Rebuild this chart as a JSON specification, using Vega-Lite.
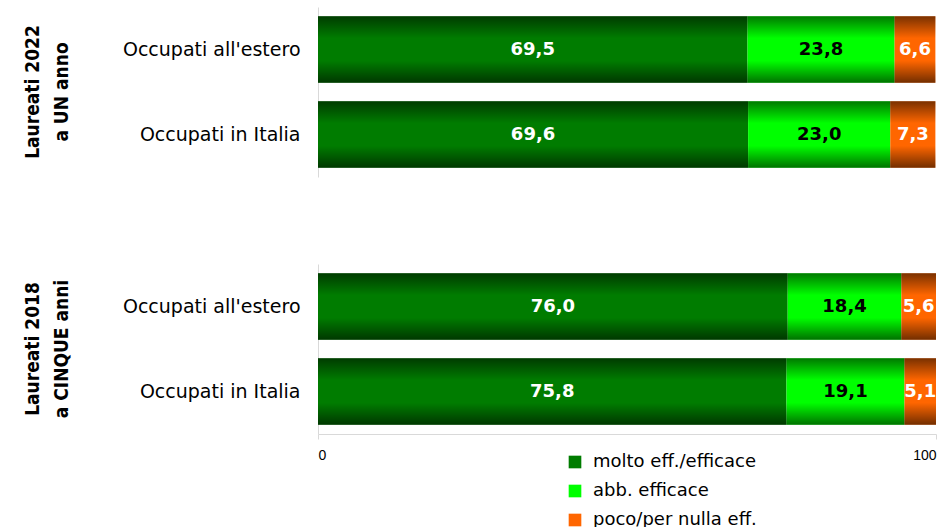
{
  "$schema": "https://vega.github.io/schema/vega-lite/v6.json",
  "background": "white",
  "padding": {"top": 7, "left": 24, "right": 14, "bottom": 5},
  "config": {
    "locale": {"number": {"decimal": ",", "thousands": ".", "grouping": [3], "currency": ["", " €"]}},
    "font": "DejaVu Sans",
    "view": {"stroke": null}
  },
  "data": {"values": [
    {"grp": "Laureati 2022|a UN anno", "sub": "Occupati all'estero", "cat": "molto eff./efficace", "k": 1, "v": 69.5},
    {"grp": "Laureati 2022|a UN anno", "sub": "Occupati all'estero", "cat": "abb. efficace", "k": 2, "v": 23.8},
    {"grp": "Laureati 2022|a UN anno", "sub": "Occupati all'estero", "cat": "poco/per nulla eff.", "k": 3, "v": 6.6},
    {"grp": "Laureati 2022|a UN anno", "sub": "Occupati in Italia", "cat": "molto eff./efficace", "k": 1, "v": 69.6},
    {"grp": "Laureati 2022|a UN anno", "sub": "Occupati in Italia", "cat": "abb. efficace", "k": 2, "v": 23.0},
    {"grp": "Laureati 2022|a UN anno", "sub": "Occupati in Italia", "cat": "poco/per nulla eff.", "k": 3, "v": 7.3},
    {"grp": "Laureati 2018|a CINQUE anni", "sub": "Occupati all'estero", "cat": "molto eff./efficace", "k": 1, "v": 76.0},
    {"grp": "Laureati 2018|a CINQUE anni", "sub": "Occupati all'estero", "cat": "abb. efficace", "k": 2, "v": 18.4},
    {"grp": "Laureati 2018|a CINQUE anni", "sub": "Occupati all'estero", "cat": "poco/per nulla eff.", "k": 3, "v": 5.6},
    {"grp": "Laureati 2018|a CINQUE anni", "sub": "Occupati in Italia", "cat": "molto eff./efficace", "k": 1, "v": 75.8},
    {"grp": "Laureati 2018|a CINQUE anni", "sub": "Occupati in Italia", "cat": "abb. efficace", "k": 2, "v": 19.1},
    {"grp": "Laureati 2018|a CINQUE anni", "sub": "Occupati in Italia", "cat": "poco/per nulla eff.", "k": 3, "v": 5.1}
  ]},
  "transform": [
    {"stack": "v", "groupby": ["grp", "sub"], "sort": [{"field": "k"}], "as": ["x0", "x1"]},
    {"calculate": "(datum.x0 + datum.x1) / 2", "as": "xm"}
  ],
  "facet": {
    "row": {
      "field": "grp",
      "sort": ["Laureati 2022|a UN anno", "Laureati 2018|a CINQUE anni"],
      "title": null,
      "header": {
        "labelExpr": "split(datum.value, '|')",
        "labelAngle": 270,
        "labelOrient": "left",
        "labelFont": "DejaVu Sans Condensed",
        "labelFontSize": 19,
        "labelFontWeight": "bold",
        "labelPadding": 31,
        "labelLineHeight": 29,
        "labelColor": "black"
      }
    }
  },
  "spacing": {"row": 87},
  "spec": {
    "width": 618,
    "height": 170,
    "encoding": {
      "y": {
        "field": "sub", "type": "nominal",
        "sort": ["Occupati all'estero", "Occupati in Italia"],
        "scale": {"paddingInner": 0.22, "paddingOuter": 0.11},
        "axis": {"title": null, "ticks": false, "labelFontSize": 19, "labelPadding": 18, "domainColor": "#d9d9d9", "labelColor": "black", "labelLimit": 300}
      }
    },
    "layer": [
      {
        "mark": {"type": "bar"},
        "encoding": {
          "x": {"field": "x0", "type": "quantitative", "scale": {"domain": [0, 100]},
            "axis": {"title": null, "values": [0, 100], "grid": false, "domainColor": "#d9d9d9", "tickColor": "#d9d9d9", "tickSize": 5, "labelFontSize": 14, "labelColor": "black", "labelFont": "Liberation Sans", "labelPadding": 9}},
          "x2": {"field": "x1"},
          "color": {
            "field": "cat", "type": "nominal",
            "scale": {"domain": ["molto eff./efficace", "abb. efficace", "poco/per nulla eff."], "range": ["#007c00", "#00ff00", "#ff6600"]},
            "legend": {
              "title": null, "orient": "none", "direction": "vertical", "legendX": 248, "legendY": 446,
              "symbolType": "square", "symbolSize": 160, "labelFontSize": 18, "labelColor": "black", "labelLimit": 400,
              "rowPadding": 11, "labelOffset": 9
            }
          }
        }
      },
      {
        "mark": {"type": "bar", "fill": {"gradient": "linear", "x1": 0, "y1": 0, "x2": 0, "y2": 1, "stops": [{"offset": 0, "color": "rgba(0,0,0,0.52)"}, {"offset": 0.33, "color": "rgba(0,0,0,0)"}, {"offset": 0.67, "color": "rgba(0,0,0,0)"}, {"offset": 1, "color": "rgba(0,0,0,0.55)"}]}},
        "encoding": {
          "x": {"field": "x0", "type": "quantitative"},
          "x2": {"field": "x1"}
        }
      },
      {
        "mark": {"type": "text", "fontSize": 18, "fontWeight": "bold"},
        "encoding": {
          "x": {"field": "xm", "type": "quantitative"},
          "text": {"field": "v", "type": "quantitative", "format": ".1f"},
          "color": {"condition": {"test": "datum.cat === 'abb. efficace'", "value": "black"}, "value": "white"}
        }
      }
    ]
  }
}
